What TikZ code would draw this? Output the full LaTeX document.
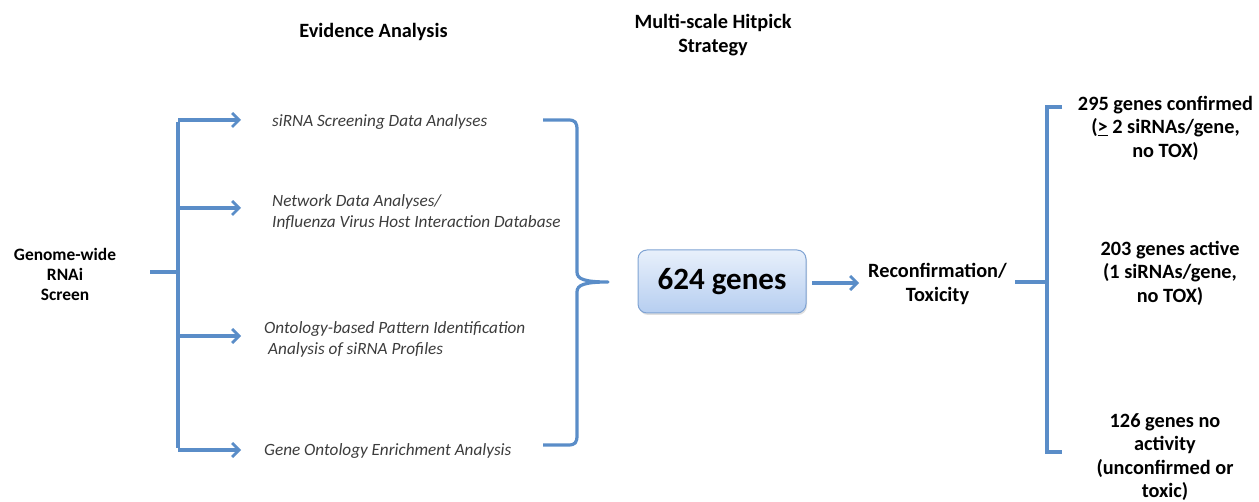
\documentclass[tikz,border=0pt]{standalone}
\usepackage{fontspec}
\setmainfont{Carlito}
\usetikzlibrary{arrows.meta,shadows}
\definecolor{lineblue}{HTML}{5A8DC8}
\definecolor{txtgray}{HTML}{3C3C3C}
\definecolor{boxtop}{HTML}{E8F0FB}
\definecolor{boxbot}{HTML}{B6CEF0}
\definecolor{boxedge}{HTML}{7FA3D3}
\tikzset{
  conn/.style={draw=lineblue, line width=3.2pt},
  arr/.style={conn, -{Straight Barb[length=7pt,width=14pt,line width=2.8pt]}},
  bold/.style={font=\fontsize{20.3}{23.5}\selectfont\bfseries, text=black, align=center, inner sep=0pt},
  boldsm/.style={font=\fontsize{17.4}{20}\selectfont\bfseries, text=black, align=center, inner sep=0pt},
  ital/.style={font=\fontsize{17.2}{21}\selectfont\itshape, text=txtgray, align=left, inner sep=0pt, anchor=west},
}
\begin{document}
\begin{tikzpicture}[x=1pt,y=-1pt]
\useasboundingbox (0,0) rectangle (1259,502);
% headings
\node[bold] (ev) at (373.5,32) {Evidence Analysis};
\node[bold] (ms) at (713,35) {Multi-scale Hitpick\\Strategy};
% source
\node[boldsm] (src) at (65,274) {Genome-wide\\RNAi\\Screen};
\coordinate (s0) at (150,272);
\coordinate (t0) at (178,272);
\coordinate (tt) at (178,120);
\coordinate (tb) at (178,450);
\coordinate (b1) at (178,120);
\coordinate (b2) at (178,208);
\coordinate (b3) at (178,336);
\coordinate (b4) at (178,450);
\coordinate (e1) at (241,120);
\coordinate (e2) at (241,208);
\coordinate (e3) at (241,336);
\coordinate (e4) at (241,450);
\draw[conn] (s0) -- (t0);
\draw[conn] ([yshift=-1.6pt]tt) -- ([yshift=1.6pt]tb);
\draw[arr] (b1) -- (e1);
\draw[arr] (b2) -- (e2);
\draw[arr] (b3) -- (e3);
\draw[arr] (b4) -- (e4);
% evidence texts
\node[ital] (a1) at (272,122) {siRNA Screening Data Analyses};
\node[ital] (a2) at (272,212) {Network Data Analyses/\\Influenza Virus Host Interaction Database};
\node[ital] (a3) at (264,339.5) {Ontology-based Pattern Identification\\\hspace*{4pt}Analysis of siRNA Profiles};
\node[ital] (a4) at (264,451) {Gene Ontology Enrichment Analysis};
% brace
\coordinate (br1) at (543,120);
\coordinate (br2) at (543,445);
\coordinate (tip) at (608,282);
\draw[conn, line join=round] (br1) -- (568,120) .. controls (575,120) and (577,122) .. (577,130)
  -- (577,272) .. controls (577,279) and (584,282) .. (tip)
  .. controls (584,282) and (577,285) .. (577,292)
  -- (577,435) .. controls (577,443) and (575,445) .. (568,445) -- (br2);
% box
\node[draw=boxedge, line width=1pt, rounded corners=9pt, top color=boxtop, bottom color=boxbot,
  minimum width=168pt, minimum height=63pt, inner sep=0pt,
  font=\fontsize{31}{34}\selectfont\bfseries, text=black,
  drop shadow={shadow xshift=1pt, shadow yshift=-2pt, opacity=0.25}] (box) at (722,281.5) {624 genes};
\node[bold] (rt) at (937.5,284) {Reconfirmation/\\Toxicity};
\coordinate (bx0) at (812,283);
\coordinate (bx1) at (859,283);
\draw[arr] (bx0) -- (bx1);
% right bracket
\coordinate (r0) at (1015,282);
\coordinate (rm) at (1047,282);
\coordinate (rtop) at (1062,107);
\coordinate (rbot) at (1062,452);
\draw[conn] (r0) -- (rm);
\draw[conn, line join=miter] (rtop) -- (1047,107) -- (1047,452) -- (rbot);
% outcomes
\node[bold] (o1) at (1165.5,128) {295 genes confirmed\\(\underline{>} 2 siRNAs/gene,\\no TOX)};
\node[bold] (o2) at (1170,273) {203 genes active\\(1 siRNAs/gene,\\no TOX)};
\node[bold] (o3) at (1165,457) {126 genes no\\activity\\(unconfirmed or\\toxic)};
\end{tikzpicture}
\end{document}
